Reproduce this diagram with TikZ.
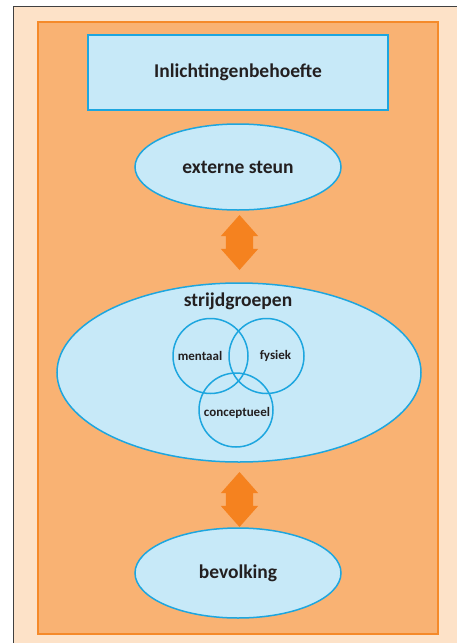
\documentclass[tikz,border=0pt]{standalone}
\usepackage{fontspec}
\setmainfont{Carlito}
\usetikzlibrary{shapes.geometric,shapes.arrows}
\definecolor{lichtoranje}{HTML}{FDE2C8}
\definecolor{oranje}{HTML}{F9B273}
\definecolor{oranjelijn}{HTML}{F58A2A}
\definecolor{pijloranje}{HTML}{F5821F}
\definecolor{lichtblauw}{HTML}{C7E9F8}
\definecolor{blauw}{HTML}{1DA6DF}
\definecolor{tekst}{HTML}{231F20}
\tikzset{
    vak/.style={
           rectangle,
           draw=blauw, fill=lichtblauw, line width=1.5pt,
           inner sep=0pt,
           text=tekst, font=\bfseries\fontsize{19.5pt}{22pt}\selectfont},
    ovaal/.style={
           ellipse,
           draw=blauw, fill=lichtblauw, line width=1.5pt,
           inner sep=0pt,
           text=tekst, font=\bfseries\fontsize{19.5pt}{22pt}\selectfont},
    cirkel/.style={
           circle,
           draw=blauw, line width=1.5pt,
           inner sep=0pt,
           minimum size=75pt},
    klein/.style={
           text=tekst, font=\bfseries\fontsize{13pt}{15pt}\selectfont},
    pijl/.style={
           double arrow,
           fill=pijloranje,
           rotate=90,
           inner xsep=0pt,
           inner ysep=13.5pt,
           minimum height=55pt,
           minimum width=37pt,
           double arrow head extend=5pt,
           double arrow tip angle=83}
}

\begin{document}
\begin{tikzpicture}[x=1pt,y=-1pt]
          \useasboundingbox (0,0) rectangle (457,643);
          % achtergrond
          \fill[lichtoranje] (13,6) rectangle (457,643);
          \draw[black!75, line width=1pt] (13,643) -- (13,6) -- (457,6);
          \draw[oranjelijn, fill=oranje, line width=1.2pt] (38,22) rectangle (438,634);
          % knopen
          \node[vak, minimum width=300pt, minimum height=75pt](behoefte) at (238,72.5) {Inlichtingenbehoefte};
          \node[ovaal, minimum width=206pt, minimum height=86pt](steun) at (238,167) {externe steun};
          \node[ovaal, minimum width=364pt, minimum height=179pt](groepen) at (239,372.5) {};
          \node[ovaal, minimum width=206pt, minimum height=90pt](bevolking) at (238,573) {bevolking};
          \node[text=tekst, font=\bfseries\fontsize{19.5pt}{22pt}\selectfont](titel) at (238,301) {strijdgroepen};
          % venn
          \node[cirkel](cmentaal) at (210.5,356) {};
          \node[cirkel](cfysiek) at (266.5,356) {};
          \node[cirkel, minimum size=74pt](cconcept) at (236,410) {};
          \node[klein](mentaal) at (200,356) {mentaal};
          \node[klein](fysiek) at (275.5,356) {fysiek};
          \node[klein](concept) at (237,413) {conceptueel};
          % pijlen
          \node[pijl](pijlboven) at (239.5,242.5) {};
          \node[pijl](pijlonder) at (239.5,499.5) {};
\end{tikzpicture}
\end{document}
